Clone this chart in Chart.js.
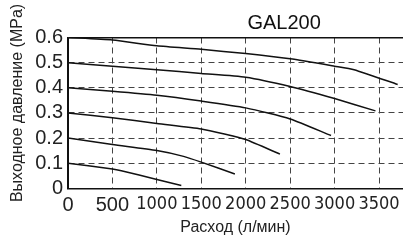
<!DOCTYPE html>
<html>
<head>
<meta charset="utf-8">
<script src="https://cdn.jsdelivr.net/npm/chart.js@4/dist/chart.umd.min.js"></script>
<style>
  body { margin: 0; background: #fff; }
  #wrap { width: 403px; height: 240px; position: relative; }
</style>
</head>
<body>
<div id="wrap"><canvas id="grafica"></canvas></div>
<script>
// Расход (л/мин) и выходное давление (MPa) по кривым
const flow06 = [0, 500, 1000, 1500, 2000, 2500, 3000, 3220, 3710];
const pres06 = [0.6, 0.590, 0.567, 0.553, 0.536, 0.515, 0.486, 0.472, 0.413];
const flow05 = [0, 500, 1000, 1500, 2000, 2500, 3000, 3460];
const pres05 = [0.5, 0.486, 0.472, 0.457, 0.442, 0.405, 0.357, 0.308];
const flow04 = [0, 500, 1000, 1500, 2000, 2500, 2960];
const pres04 = [0.4, 0.386, 0.370, 0.347, 0.320, 0.276, 0.210];
const flow03 = [0, 500, 1000, 1500, 1760, 2000, 2385];
const pres03 = [0.3, 0.281, 0.258, 0.236, 0.216, 0.194, 0.136];
const flow02 = [0, 500, 1000, 1300, 1500, 1878];
const pres02 = [0.2, 0.174, 0.150, 0.127, 0.104, 0.057];
const flow01 = [0, 500, 600, 1000, 1275];
const pres01 = [0.1, 0.077, 0.070, 0.035, 0.011];

// marcas de los ejes
const xTicks = [0, 500, 1000, 1500, 2000, 2500, 3000, 3500];
const yTicks = [0, 0.1, 0.2, 0.3, 0.4, 0.5, 0.6];

const curvas = [
    [flow06, pres06], [flow05, pres05], [flow04, pres04],
    [flow03, pres03], [flow02, pres02], [flow01, pres01]
];

const TITULO = 'GAL200';
const TITULO_Y = 'Выходное давление (MPa)';
const NEGRO = '#111';
const REJILLA = '#444';
const SANS = '"Liberation Sans", Arial, sans-serif';

// título y rótulo del eje Y dibujados a mano (no están centrados en el área)
const textosPlugin = {
    id: 'textosGal',
    afterDraw(chart) {
        const { ctx, chartArea } = chart;
        ctx.save();
        ctx.fillStyle = NEGRO;
        ctx.textAlign = 'center';
        ctx.textBaseline = 'alphabetic';
        ctx.font = '20px ' + SANS;
        ctx.fillText(TITULO, chartArea.left + (chartArea.right - chartArea.left) * 0.645, 28.5);

        ctx.fillStyle = '#222';
        ctx.font = '16px ' + SANS;
        ctx.textBaseline = 'middle';
        ctx.translate(18, 103);
        ctx.rotate(-Math.PI / 2);
        ctx.fillText(TITULO_Y, 0, 0);
        ctx.restore();
    }
};

const fuenteTick = (v) => {
    if (v === 0 || v === 500) return { family: SANS, size: 20 };
    return { family: '"Liberation Sans Narrow", "DejaVu Sans Condensed", sans-serif', size: 18 };
};

const esTope = (v) => v === 0 || Math.abs(v - 0.6) < 1e-6;

new Chart(document.getElementById('grafica'), {
    type: 'line',
    data: {
        datasets: curvas.map(([xs, ys]) => ({
            data: xs.map((x, i) => ({ x: x, y: ys[i] })),
            borderColor: NEGRO,
            borderWidth: 1.5,
            pointRadius: 0,
            tension: 0.2,
            fill: false
        }))
    },
    options: {
        responsive: true,
        maintainAspectRatio: false,
        animation: false,
        layout: { padding: { top: 37.5, right: 0, left: 0, bottom: 0 } },
        plugins: {
            legend: { display: false },
            tooltip: { enabled: false }
        },
        scales: {
            x: {
                type: 'linear',
                min: 0,
                max: 3770,
                afterBuildTicks: (s) => { s.ticks = xTicks.map(v => ({ value: v })); },
                afterFit: (s) => { s.height = 51.7; s.paddingRight = 0; },
                ticks: {
                    autoSkip: false,
                    maxRotation: 0,
                    minRotation: 0,
                    padding: 5,
                    color: '#222',
                    font: (c) => fuenteTick(c.tick ? c.tick.value : 1000),
                    callback: (v) => String(v)
                },
                grid: {
                    color: (c) => (c.tick && c.tick.value === 0) ? NEGRO : REJILLA,
                    lineWidth: 1,
                    drawTicks: false
                },
                border: {
                    color: NEGRO,
                    width: 1.5,
                    dash: (c) => (c.tick && c.tick.value === 0) ? [] : [6, 4]
                },
                title: {
                    display: true,
                    text: 'Расход (л/мин)',
                    color: '#222',
                    font: { family: SANS, size: 16 },
                    padding: { top: 0, bottom: 2.4 }
                }
            },
            y: {
                min: 0,
                max: 0.6,
                afterBuildTicks: (s) => { s.ticks = yTicks.map(v => ({ value: v })); },
                afterFit: (s) => { s.width = 68; },
                ticks: {
                    autoSkip: false,
                    padding: 5,
                    color: '#222',
                    font: { family: SANS, size: 20 },
                    callback: (v) => v === 0 ? '0' : v.toFixed(1)
                },
                grid: {
                    color: (c) => esTope(c.tick ? c.tick.value : 0) ? NEGRO : REJILLA,
                    lineWidth: (c) => (c.tick && Math.abs(c.tick.value - 0.6) < 1e-6) ? 1.5 : 1,
                    drawTicks: false
                },
                border: {
                    color: NEGRO,
                    width: 1.5,
                    dash: (c) => esTope(c.tick ? c.tick.value : 0) ? [] : [6, 4]
                },
                title: { display: false }
            }
        }
    },
    plugins: [textosPlugin]
});
</script>
</body>
</html>
